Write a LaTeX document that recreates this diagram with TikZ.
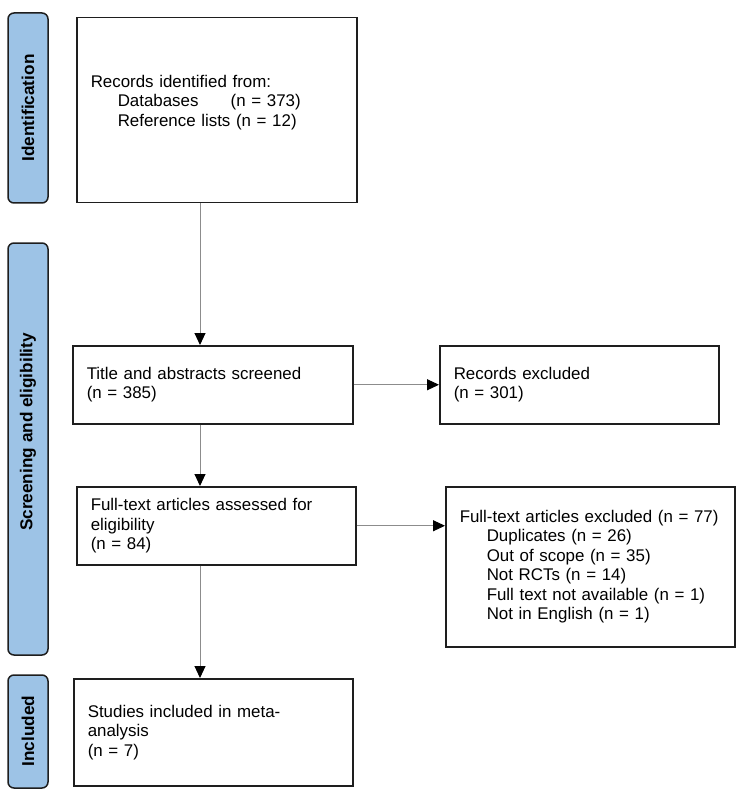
\documentclass[tikz,border=0pt]{standalone}
\usepackage{fontspec}
\setmainfont{Liberation Sans}
\usepackage{tikz}
\usetikzlibrary{calc, positioning, arrows.meta}
\usepackage{xcolor}
\definecolor{phaseblue}{RGB}{157, 195, 230}
\definecolor{boxline}{RGB}{30, 30, 30}
\definecolor{flowline}{RGB}{140, 140, 140}

\tikzset{
  stagebox/.style={draw=boxline, line width=1.5pt, anchor=north west, align=left,
    inner xsep=14pt, inner ysep=0pt, font=\fontsize{16.9pt}{19.5pt}\selectfont},
  phasebar/.style={draw=boxline, line width=1.5pt, fill=phaseblue, rounded corners=6pt},
  phaselabel/.style={rotate=90, font=\fontsize{17.2pt}{20pt}\selectfont\bfseries},
  flow/.style={flowline, line width=1pt, -{Triangle[color=black, length=12pt, width=11pt]}}
}

\begin{document}
\begin{tikzpicture}[x=1pt, y=-1pt]
  \useasboundingbox (0,0) rectangle (750,802);

  % phase bars on the left
  \draw[phasebar] (8,13) rectangle (48,203);
  \draw[phasebar] (8,243) rectangle (48,655);
  \draw[phasebar] (8,675) rectangle (48,788);
  \node[phaselabel] (lblident) at (28,108) {Identification};
  \node[phaselabel] (lblscreen) at (28,432) {Screening and eligibility};
  \node[phaselabel] (lblincl) at (28,731) {Included};

  % main column
  \node[stagebox, text width=252pt, minimum height=185pt, text depth=58pt] (ident) at (76,17)
    {Records identified from:\\
     \hspace*{27pt}\makebox[113pt][l]{Databases}(n = 373)\\
     \hspace*{27pt}Reference lists (n = 12)};
  \node[stagebox, text width=252pt, minimum height=78pt] (title) at (72,345)
    {Title and abstracts screened\\(n = 385)};
  \node[stagebox, text width=251pt, minimum height=78pt] (fulltext) at (76,486)
    {Full-text articles assessed for\\eligibility\\(n = 84)};
  \node[stagebox, text width=251pt, minimum height=107pt] (incl) at (73,678)
    {Studies included in meta-\\analysis\\(n = 7)};

  % exclusions
  \node[stagebox, text width=251pt, minimum height=78pt] (recexcl) at (439,345)
    {Records excluded\\(n = 301)};
  \node[stagebox, text width=261pt, minimum height=160pt] (ftexcl) at (445,486)
    {Full-text articles excluded (n = 77)\\
     \hspace*{27pt}Duplicates (n = 26)\\
     \hspace*{27pt}Out of scope (n = 35)\\
     \hspace*{27pt}Not RCTs (n = 14)\\
     \hspace*{27pt}Full text not available (n = 1)\\
     \hspace*{27pt}Not in English (n = 1)};

  % connectors
  \coordinate (spine) at (200,0);
  \draw[flow] (ident.south -| spine) -- (title.north -| spine);
  \draw[flow] (title.south -| spine) -- (fulltext.north -| spine);
  \draw[flow] (fulltext.south -| spine) -- (incl.north -| spine);
  \draw[flow] (title.east) -- (title.east -| recexcl.west);
  \draw[flow] (fulltext.east) -- (fulltext.east -| ftexcl.west);
\end{tikzpicture}
\end{document}
